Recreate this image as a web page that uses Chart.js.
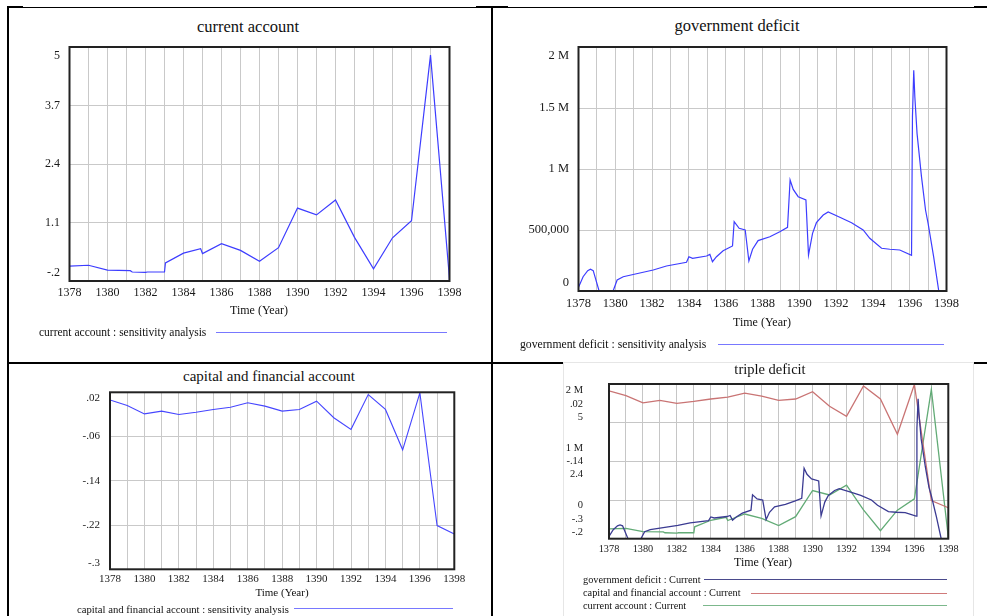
<!DOCTYPE html>
<html>
<head>
<meta charset="utf-8">
<title>Triple deficit</title>
<script src="https://cdn.jsdelivr.net/npm/chart.js@4.4.1/dist/chart.umd.min.js"></script>
<style>
  html, body { margin: 0; padding: 0; background: #fff; }
  body { width: 987px; height: 616px; position: relative; overflow: hidden;
         font-family: "Liberation Serif", "Times New Roman", serif; color: #111; }
  .rule { position: absolute; background: #000; }
  .cv { position: absolute; }
  .txt { position: absolute; white-space: nowrap; line-height: 1; }
  .ctr { transform: translate(-50%, -50%); }
  .lft { transform: translateY(-50%); }
  .key { position: absolute; height: 0; }
  #shot { position: absolute; left: 563px; top: 362px; width: 409px; height: 270px;
          border: 1px solid #e6e6e6; background: #fff; }
</style>
</head>
<body>

<!-- table rules -->
<div class="rule" style="left:7px;top:6.8px;width:980px;height:1.2px"></div>
<div class="rule" style="left:7px;top:6.3px;width:16px;height:2.2px"></div>
<div class="rule" style="left:476px;top:6.3px;width:32px;height:2.2px"></div>
<div class="rule" style="left:974px;top:6.3px;width:13px;height:2.2px"></div>
<div class="rule" style="left:6.5px;top:7px;width:2px;height:609px"></div>
<div class="rule" style="left:491px;top:7px;width:2.2px;height:609px"></div>
<div class="rule" style="left:7px;top:362.3px;width:556px;height:1.3px"></div>
<div class="rule" style="left:7px;top:361.6px;width:60px;height:2.4px"></div>
<div class="rule" style="left:476px;top:361.6px;width:32px;height:2.4px"></div>
<div class="rule" style="left:973px;top:361.8px;width:14px;height:2.4px"></div>

<div id="shot"></div>

<!-- panel: current account -->
<div class="txt ctr" style="left:248px;top:27px;font-size:16.5px">current account</div>
<canvas id="cCurrent" class="cv" width="470" height="310" style="left:10px;top:12px"></canvas>
<div class="txt ctr" style="left:259px;top:310px;font-size:12px">Time (Year)</div>
<div class="txt lft" style="left:39px;top:333px;font-size:11.5px">current account : sensitivity analysis</div>
<div class="key" style="left:216px;top:331.5px;width:231px;border-top:1.5px solid #7878ff"></div>

<!-- panel: government deficit -->
<div class="txt ctr" style="left:737px;top:26px;font-size:16.5px">government deficit</div>
<canvas id="cGov" class="cv" width="480" height="320" style="left:500px;top:12px"></canvas>
<div class="txt ctr" style="left:762px;top:322px;font-size:12px">Time (Year)</div>
<div class="txt lft" style="left:520px;top:345px;font-size:11.7px">government deficit : sensitivity analysis</div>
<div class="key" style="left:718px;top:343.5px;width:226px;border-top:1.5px solid #7878ff"></div>

<!-- panel: capital and financial account -->
<div class="txt ctr" style="left:269px;top:376px;font-size:15px">capital and financial account</div>
<canvas id="cCapital" class="cv" width="440" height="240" style="left:40px;top:365px"></canvas>
<div class="txt ctr" style="left:282px;top:592px;font-size:11px">Time (Year)</div>
<div class="txt lft" style="left:77px;top:608.5px;font-size:10.7px">capital and financial account : sensitivity analysis</div>
<div class="key" style="left:294px;top:607.5px;width:159px;border-top:1.5px solid #7878ff"></div>

<!-- panel: triple deficit -->
<div class="txt ctr" style="left:770px;top:369px;font-size:14.5px">triple deficit</div>
<canvas id="cTriple" class="cv" width="404" height="305" style="left:560px;top:309px"></canvas>
<div class="txt ctr" style="left:763px;top:562px;font-size:12px">Time (Year)</div>
<div class="txt lft" style="left:583px;top:579.5px;font-size:10.3px">government deficit : Current</div>
<div class="key" style="left:704px;top:579px;width:243px;border-top:1.3px solid #4a4a8c"></div>
<div class="txt lft" style="left:583px;top:593px;font-size:10.3px">capital and financial account : Current</div>
<div class="key" style="left:751px;top:592.5px;width:196px;border-top:1.3px solid #d07a7a"></div>
<div class="txt lft" style="left:583px;top:605.5px;font-size:10.3px">current account : Current</div>
<div class="key" style="left:703px;top:605px;width:244px;border-top:1.3px solid #7cb88c"></div>

<script>
// ---- time axis ----
const years = [1378, 1379, 1380, 1381, 1382, 1383, 1384, 1385, 1386, 1387, 1388,
               1389, 1390, 1391, 1392, 1393, 1394, 1395, 1396, 1397, 1398];
const yearLabels = ['1378', '', '1380', '', '1382', '', '1384', '', '1386', '', '1388',
                    '', '1390', '', '1392', '', '1394', '', '1396', '', '1398'];

// ---- current account ----
const currentTime = [1378, 1379, 1380, 1381.2, 1381.3, 1382, 1382.1, 1383, 1383.05, 1384,
                     1384.9, 1385, 1386, 1387, 1388, 1389, 1390, 1391, 1392, 1393,
                     1394, 1395, 1396, 1397, 1397.95, 1398];
const currentAccount = [0.13, 0.15, 0.04, 0.03, 0.0, -0.01, 0.0, 0.0, 0.2, 0.42,
                        0.52, 0.41, 0.63, 0.48, 0.24, 0.54, 1.42, 1.27, 1.6, 0.77,
                        0.07, 0.76, 1.14, 4.82, 0.1, -0.2];
const currentTicks = [-0.2, 1.1, 2.4, 3.7, 5];
const currentLabels = ['-.2', '1.1', '2.4', '3.7', '5'];

// ---- government deficit ----
const govTime = [1378, 1378.25, 1378.5, 1378.65, 1378.8, 1379.12, 1379.88, 1380.1, 1380.43, 1382.06,
                 1382.78, 1383.87, 1384.0, 1384.2, 1384.96, 1385.14, 1385.28, 1385.5, 1385.86, 1386.37,
                 1386.46, 1386.73, 1387.06, 1387.26, 1387.46, 1387.76, 1388.4, 1388.94, 1389.36, 1389.5,
                 1389.67, 1389.94, 1390.36, 1390.5, 1390.72, 1390.93, 1391.3, 1391.57, 1392.2, 1392.84,
                 1393.47, 1393.83, 1394.47, 1394.92, 1395.46, 1396.1, 1396.15, 1396.22, 1396.28, 1396.4,
                 1396.64, 1396.86, 1397.0, 1397.3, 1397.58, 1398];
const govDeficit = [30000, 117000, 167000, 178000, 167000, 0, 0, 90000, 117000, 172000,
                    205000, 235000, 281000, 268000, 287000, 300000, 240000, 281000, 330000, 369000,
                    568000, 514000, 500000, 246000, 342000, 413000, 445000, 486000, 522000, 910000,
                    833000, 773000, 746000, 295000, 473000, 560000, 623000, 648000, 604000, 560000,
                    500000, 432000, 350000, 342000, 336000, 292000, 1430000, 1810000, 1590000, 1290000,
                    937000, 664000, 555000, 281000, 0, 0];
const govTicks = [0, 500000, 1000000, 1500000, 2000000];
const govLabels = ['0', '500,000', '1 M', '1.5 M', '2 M'];

// ---- capital and financial account (yearly) ----
const capitalAccount = [0.006, -0.004, -0.019, -0.014, -0.020, -0.016, -0.011, -0.007, 0.001, -0.005, -0.014,
                        -0.011, 0.004, -0.026, -0.047, 0.016, -0.011, -0.084, 0.019, -0.221, -0.236];
const capitalTicks = [-0.3, -0.22, -0.14, -0.06, 0.02];
const capitalLabels = ['-.3', '-.22', '-.14', '-.06', '.02'];

// ---- triple deficit: one stacked label column for three scales ----
const tripleGovLabels = ['0', '', '1 M', '', '2 M'];
const tripleCapLabels = ['-.3', '', '-.14', '', '.02'];
const tripleCurLabels = ['-.2', '', '2.4', '', '5'];

const SERIF = '"Liberation Serif", "Times New Roman", serif';
Chart.defaults.font.family = SERIF;
Chart.defaults.color = '#1a1a1a';

const pairs = (xs, ys) => xs.map((x, i) => ({ x: x, y: ys[i] }));

// dark box round the plot area
const framePlugin = {
  id: 'frame',
  afterDatasetsDraw(chart, args, opts) {
    const a = chart.chartArea, ctx = chart.ctx;
    ctx.save();
    ctx.strokeStyle = opts.color || '#222';
    ctx.lineWidth = opts.width || 2;
    ctx.strokeRect(a.left, a.top, a.right - a.left, a.bottom - a.top);
    ctx.restore();
  }
};

// builds one panel; box = canvas placement, area = plot rectangle (page px)
function panel(id, box, area, spec) {
  const yWidth = area.l - box.x;
  const pad = {
    left: 0,
    top: area.t - box.y,
    right: box.x + box.w - area.r,
    bottom: box.y + box.h - area.b - spec.xHeight
  };
  const gridColor = spec.gridColor || '#c9c9c9';
  const scales = {
    x: {
      type: 'linear', min: 1378, max: 1398,
      afterBuildTicks: s => { s.ticks = years.map(v => ({ value: v })); },
      afterFit: s => { s.height = spec.xHeight; },
      grid: { color: gridColor, lineWidth: 1, drawTicks: false },
      border: { display: false },
      ticks: {
        autoSkip: false, maxRotation: 0, minRotation: 0,
        padding: spec.xPad, color: '#1a1a1a',
        font: { size: spec.xFont, family: SERIF },
        callback: (v, i) => yearLabels[i]
      }
    },
    y: {
      type: 'linear', min: spec.yTicks[0], max: spec.yTicks[spec.yTicks.length - 1],
      afterBuildTicks: s => { s.ticks = spec.yTicks.map(v => ({ value: v })); },
      afterFit: s => { s.width = yWidth; },
      grid: { color: gridColor, lineWidth: 1, drawTicks: false },
      border: { display: false },
      ticks: {
        autoSkip: false,
        padding: spec.yPad, color: '#1a1a1a',
        font: { size: spec.yFont, family: SERIF, lineHeight: spec.yLine },
        callback: spec.yLabel
      }
    }
  };
  Object.assign(scales, spec.extraScales || {});
  return new Chart(document.getElementById(id), {
    type: 'line',
    data: { datasets: spec.datasets },
    options: {
      responsive: false, animation: false, devicePixelRatio: 1,
      layout: { padding: pad },
      plugins: {
        legend: { display: false }, tooltip: { enabled: false },
        frame: { color: '#222', width: 2 }
      },
      elements: { point: { radius: 0 }, line: { tension: 0 } },
      scales: scales
    },
    plugins: [framePlugin]
  });
}

// edge labels sit just inside the frame
const edgeLabel = labels => (v, i) =>
  i === 0 ? [labels[0], ''] : (i === labels.length - 1 ? ['', labels[i]] : labels[i]);

panel('cCurrent', { x: 10, y: 12, w: 470, h: 310 }, { l: 69.5, t: 47, r: 449.5, b: 281 }, {
  xHeight: 30, xPad: 4.8, xFont: 12, yPad: 9.5, yFont: 12, yLine: '17px',
  yTicks: currentTicks, yLabel: edgeLabel(currentLabels),
  datasets: [{ data: pairs(currentTime, currentAccount), borderColor: '#3d3dff', borderWidth: 1.2 }]
});

panel('cGov', { x: 500, y: 12, w: 480, h: 320 }, { l: 578.5, t: 47, r: 946.5, b: 291 }, {
  xHeight: 30, xPad: 5.5, xFont: 12.5, yPad: 9.5, yFont: 12.5, yLine: '17px',
  yTicks: govTicks, yLabel: edgeLabel(govLabels),
  datasets: [{ data: pairs(govTime, govDeficit), borderColor: '#3d3dff', borderWidth: 1.2 }]
});

panel('cCapital', { x: 40, y: 365, w: 440, h: 240 }, { l: 110, t: 392.3, r: 454.3, b: 569.3 }, {
  xHeight: 25, xPad: 3, xFont: 11, yPad: 10, yFont: 11, yLine: '12px',
  yTicks: capitalTicks, yLabel: edgeLabel(capitalLabels),
  datasets: [{ data: pairs(years, capitalAccount), borderColor: '#4646ff', borderWidth: 1.1 }]
});

panel('cTriple', { x: 560, y: 309, w: 404, h: 305 }, { l: 609, t: 384, r: 948.3, b: 538.7 }, {
  xHeight: 30, xPad: 4.1, xFont: 10.3, yPad: 26, yFont: 10.5, yLine: '13.3px',
  gridColor: '#c6c6c6',
  yTicks: govTicks,
  yLabel: (v, i) => {
    if (!tripleGovLabels[i]) return '';
    const lines = [tripleGovLabels[i], tripleCapLabels[i], tripleCurLabels[i]];
    if (i === 0) return lines.concat(['', '', '']);
    if (i === govTicks.length - 1) return ['', '', ''].concat(lines);
    return lines;
  },
  extraScales: {
    yCap: { type: 'linear', display: false, min: capitalTicks[0], max: capitalTicks[capitalTicks.length - 1] },
    yCur: { type: 'linear', display: false, min: currentTicks[0], max: currentTicks[currentTicks.length - 1] }
  },
  datasets: [
    { data: pairs(govTime, govDeficit), yAxisID: 'y', borderColor: '#3b3b92', borderWidth: 1.3 },
    { data: pairs(years, capitalAccount), yAxisID: 'yCap', borderColor: '#c97474', borderWidth: 1.3 },
    { data: pairs(currentTime, currentAccount), yAxisID: 'yCur', borderColor: '#62ab76', borderWidth: 1.3 }
  ]
});
</script>
</body>
</html>
